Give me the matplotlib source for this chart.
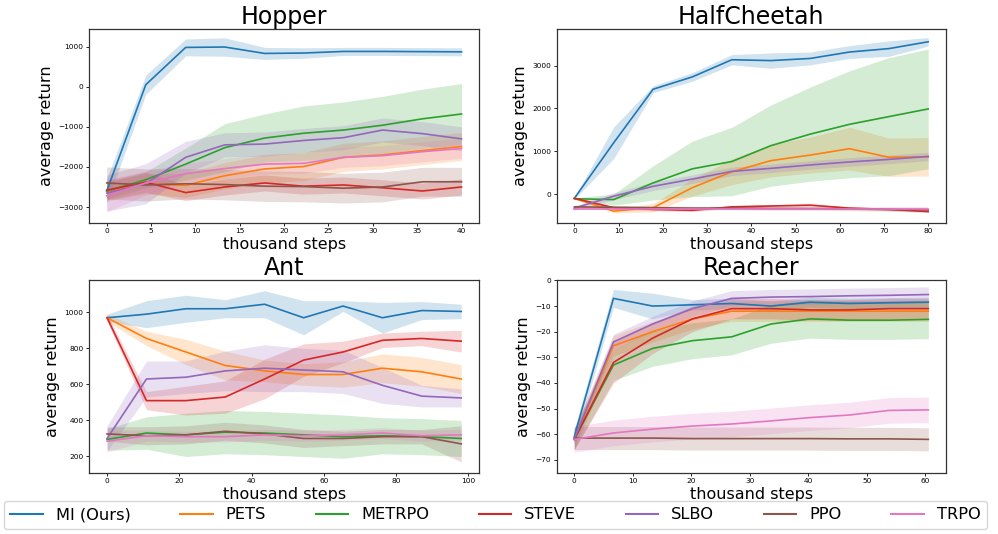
import numpy as np
import matplotlib
matplotlib.use('Agg')
import matplotlib.pyplot as plt

algos = ['MI (Ours)', 'PETS', 'METRPO', 'STEVE', 'SLBO', 'PPO', 'TRPO']
colors = ['tab:blue', 'tab:orange', 'tab:green', 'tab:red', 'tab:purple', 'tab:brown', 'tab:pink']

# Hopper
hopper_steps = [0, 4.4, 8.9, 13.3, 17.8, 22.2, 26.7, 31.1, 35.6, 40]
hopper_mean = {
    'MI (Ours)': [-2600, 50, 980, 990, 830, 840, 880, 880, 875, 870],
    'PETS': [-2600, -2420, -2460, -2220, -2050, -1990, -1760, -1700, -1590, -1490],
    'METRPO': [-2600, -2320, -1930, -1520, -1280, -1160, -1080, -960, -800, -680],
    'STEVE': [-2580, -2380, -2640, -2500, -2400, -2480, -2450, -2520, -2600, -2500],
    'SLBO': [-2650, -2420, -1760, -1450, -1430, -1340, -1270, -1080, -1170, -1300],
    'PPO': [-2400, -2450, -2420, -2440, -2480, -2490, -2530, -2500, -2370, -2370],
    'TRPO': [-2720, -2400, -2170, -2040, -1930, -1910, -1760, -1720, -1620, -1540],
}
hopper_std = {
    'MI (Ours)': [300, 240, 210, 230, 150, 130, 100, 100, 100, 100],
    'PETS': [250, 250, 300, 330, 350, 350, 350, 350, 350, 350],
    'METRPO': [200, 200, 400, 600, 600, 680, 700, 720, 740, 760],
    'STEVE': [250, 250, 200, 200, 200, 200, 200, 200, 200, 200],
    'SLBO': [450, 500, 400, 300, 300, 300, 300, 300, 300, 300],
    'PPO': [400, 400, 380, 380, 380, 380, 370, 370, 360, 360],
    'TRPO': [400, 300, 250, 250, 250, 250, 250, 250, 250, 250],
}

# HalfCheetah
cheetah_steps = [0, 8.9, 17.8, 26.7, 35.6, 44.4, 53.3, 62.2, 71.1, 80]
cheetah_mean = {
    'MI (Ours)': [-100, 1200, 2450, 2740, 3140, 3120, 3170, 3320, 3400, 3560],
    'PETS': [-100, -400, -320, 150, 520, 780, 910, 1060, 860, 870],
    'METRPO': [-110, -130, 260, 590, 760, 1130, 1400, 1630, 1810, 1990],
    'STEVE': [-100, -320, -360, -380, -300, -280, -260, -330, -360, -410],
    'SLBO': [-330, -50, 180, 350, 530, 600, 680, 750, 810, 880],
    'PPO': [-300, -310, -320, -330, -330, -340, -340, -350, -360, -370],
    'TRPO': [-340, -340, -340, -340, -340, -340, -340, -340, -340, -340],
}
cheetah_std = {
    'MI (Ours)': [20, 370, 80, 100, 120, 180, 150, 150, 180, 100],
    'PETS': [20, 40, 100, 200, 300, 380, 420, 500, 450, 450],
    'METRPO': [20, 130, 400, 650, 800, 950, 1100, 1250, 1380, 1400],
    'STEVE': [20, 30, 30, 30, 30, 30, 30, 30, 30, 30],
    'SLBO': [50, 80, 100, 100, 100, 100, 100, 100, 100, 100],
    'PPO': [40, 40, 40, 40, 40, 40, 40, 40, 40, 40],
    'TRPO': [40, 40, 40, 40, 40, 40, 40, 40, 40, 40],
}

# Ant
ant_steps = [0, 10.9, 21.8, 32.7, 43.6, 54.4, 65.3, 76.2, 87.1, 98]
ant_mean = {
    'MI (Ours)': [970, 990, 1020, 1020, 1045, 970, 1035, 970, 1010, 1005],
    'PETS': [970, 855, 780, 705, 675, 655, 655, 690, 670, 630],
    'METRPO': [295, 330, 320, 335, 330, 320, 310, 315, 310, 300],
    'STEVE': [970, 510, 510, 530, 630, 735, 780, 845, 855, 840],
    'SLBO': [300, 630, 640, 675, 690, 680, 670, 595, 535, 525],
    'PPO': [325, 315, 320, 340, 325, 300, 300, 310, 310, 270],
    'TRPO': [285, 315, 310, 310, 320, 315, 320, 330, 315, 320],
}
ant_std = {
    'MI (Ours)': [20, 75, 75, 50, 75, 95, 30, 85, 50, 40],
    'PETS': [20, 40, 70, 80, 60, 60, 70, 80, 80, 80],
    'METRPO': [60, 90, 120, 120, 120, 120, 120, 100, 100, 100],
    'STEVE': [20, 50, 80, 90, 110, 90, 60, 40, 40, 60],
    'SLBO': [70, 100, 90, 110, 130, 120, 120, 100, 60, 50],
    'PPO': [40, 50, 50, 50, 50, 50, 40, 40, 40, 100],
    'TRPO': [60, 30, 30, 30, 30, 30, 30, 30, 30, 30],
}

# Reacher
reacher_steps = [0, 6.7, 13.4, 20.2, 26.9, 33.6, 40.3, 47.0, 53.8, 60.5]
reacher_mean = {
    'MI (Ours)': [-61, -7, -10, -9.5, -9, -10, -8.5, -9, -8.7, -8.5],
    'PETS': [-62, -25.5, -20, -15, -12, -12, -12, -12, -12, -12],
    'METRPO': [-62, -33, -26.5, -23.5, -22, -17, -15, -15.5, -15.5, -15.2],
    'STEVE': [-62, -32, -22.5, -15, -11, -11, -11.5, -11.5, -11, -11],
    'SLBO': [-62, -24, -17, -11, -7, -6.5, -6.3, -6, -5.8, -5.5],
    'PPO': [-61.5, -61.5, -61.5, -61.7, -61.7, -61.7, -61.7, -61.8, -61.8, -62],
    'TRPO': [-62, -59.5, -58, -56.8, -56, -54.8, -53.5, -52.5, -50.7, -50.5],
}
reacher_std = {
    'MI (Ours)': [3, 3.5, 5, 2, 2, 2, 2, 2, 2, 2],
    'PETS': [4, 4, 4, 4, 4, 4, 4, 4, 4, 4],
    'METRPO': [4, 6, 7, 7, 7, 7.5, 7.5, 7.5, 7.5, 7.5],
    'STEVE': [4, 8, 6, 5, 4, 4, 4, 4, 4, 4],
    'SLBO': [3, 3, 3, 3, 3, 3, 3, 3, 3, 3],
    'PPO': [4.5, 4.5, 4.5, 4.5, 4.5, 4.5, 4.5, 4.5, 4.5, 4.5],
    'TRPO': [5, 5, 5, 5, 5, 5, 5, 5, 5, 5],
}

panels = [
    ('Hopper', hopper_steps, hopper_mean, hopper_std, [0.0892, 0.583, 0.391, 0.362],
     (-2, 42), (-3390, 1430), np.arange(0, 41, 5), np.arange(-3000, 1001, 1000)),
    ('HalfCheetah', cheetah_steps, cheetah_mean, cheetah_std, [0.5578, 0.583, 0.390, 0.362],
     (-4, 84), (-670, 3850), np.arange(0, 81, 10), np.arange(0, 3001, 1000)),
    ('Ant', ant_steps, ant_mean, ant_std, [0.0892, 0.1148, 0.391, 0.361],
     (-5, 103), (110, 1180), np.arange(0, 101, 20), np.arange(200, 1001, 200)),
    ('Reacher', reacher_steps, reacher_mean, reacher_std, [0.5578, 0.1148, 0.390, 0.361],
     (-3, 63.5), (-75, 0.2), np.arange(0, 61, 10), np.arange(-70, 1, 10)),
]

fig = plt.figure(figsize=(9.98, 5.34), dpi=100)

handles = []
for title, steps, mean, std, rect, xlim, ylim, xt, yt in panels:
    ax = fig.add_axes(rect)
    for name, c in zip(algos, colors):
        m = np.array(mean[name])
        s = np.array(std[name])
        ax.fill_between(steps, m - s, m + s, color=c, alpha=0.2, linewidth=0)
        line, = ax.plot(steps, m, color=c, lw=1.2, label=name)
        if title == 'Hopper':
            handles.append(line)
    ax.set_xlim(*xlim)
    ax.set_ylim(*ylim)
    ax.set_xticks(xt)
    ax.set_yticks(yt)
    ax.tick_params(labelsize=5.3, length=2.5, width=0.6, pad=1.5)
    for sp in ax.spines.values():
        sp.set_linewidth(0.9)
        sp.set_color('#333333')
    ax.set_title(title, fontsize=17, pad=0.5)
    ax.set_xlabel('thousand steps', fontsize=11.5, labelpad=2)
    ax.set_ylabel('average return', fontsize=11.5, labelpad=3)

leg = fig.legend(handles, algos, loc='upper left', bbox_to_anchor=(0.004, 0.062),
                 ncol=7, fontsize=11.7, columnspacing=3.05, handlelength=2.0,
                 frameon=True, borderaxespad=0)
for h in leg.get_lines():
    h.set_linewidth(1.5)

plt.savefig('out.png', dpi=100)
